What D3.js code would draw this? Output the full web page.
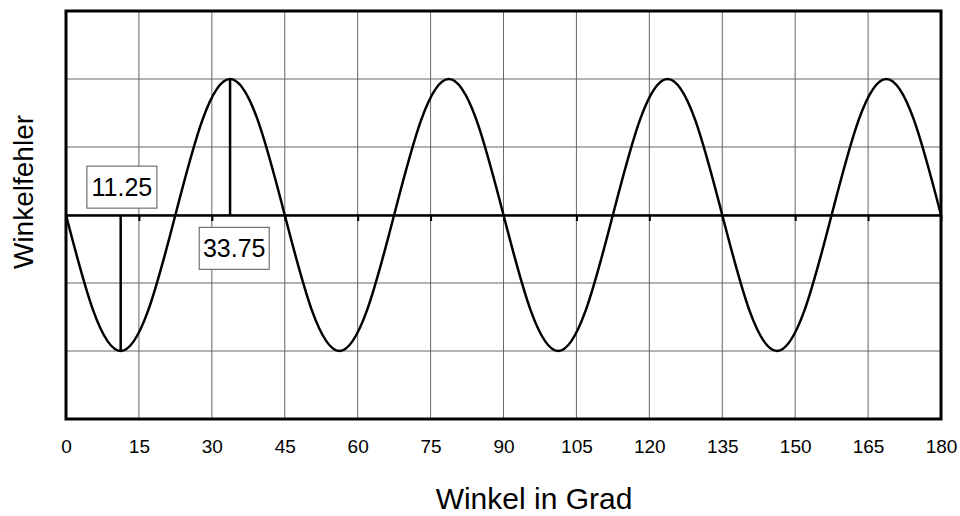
<!DOCTYPE html>
<html>
<head>
<meta charset="utf-8">
<script src="https://cdn.jsdelivr.net/npm/d3@7"></script>
<style>
  body { margin: 0; background: #fff; }
  text { font-family: Arial, "Liberation Sans", sans-serif; fill: #000; }
</style>
</head>
<body>
<div id="container"></div>
<script>
/* CONSTANTS AND GLOBALS */
const width = 960,
  height = 516,
  margin = { top: 11, bottom: 97, left: 66, right: 19 };

/* DATA */
// angle (deg) and error every 5.625 deg
const angles = [0, 5.625, 11.25, 16.875, 22.5, 28.125, 33.75, 39.375, 45,
  50.625, 56.25, 61.875, 67.5, 73.125, 78.75, 84.375, 90,
  95.625, 101.25, 106.875, 112.5, 118.125, 123.75, 129.375, 135,
  140.625, 146.25, 151.875, 157.5, 163.125, 168.75, 174.375, 180];
const errors = [0, -1.41, -2, -1.41, 0, 1.41, 2, 1.41, 0,
  -1.41, -2, -1.41, 0, 1.41, 2, 1.41, 0,
  -1.41, -2, -1.41, 0, 1.41, 2, 1.41, 0,
  -1.41, -2, -1.41, 0, 1.41, 2, 1.41, 0];
const xTicks = [0, 15, 30, 45, 60, 75, 90, 105, 120, 135, 150, 165, 180];
const yGrid = [-3, -2, -1, 0, 1, 2, 3];
// marker lines: angle and value at that angle
const markerAngles = [11.25, 33.75];
const markerValues = [-2, 2];
// label boxes: text and where they sit (data coords)
const labelTexts = ["11.25", "33.75"];
const labelX = [11.5, 34.6];
const labelY = [0.41, -0.49];

const data = angles.map((a, i) => ({ angle: a, err: errors[i] }));

/* SCALES */
const xScale = d3.scaleLinear()
  .domain([0, 180])
  .range([margin.left, width - margin.right]);

const yScale = d3.scaleLinear()
  .domain([-3, 3])
  .range([height - margin.bottom, margin.top]);

/* HTML ELEMENTS */
const svg = d3.select("#container")
  .append("svg")
  .attr("width", width)
  .attr("height", height);

// grid
svg.append("g")
  .selectAll("line")
  .data(xTicks)
  .join("line")
  .attr("x1", d => xScale(d))
  .attr("x2", d => xScale(d))
  .attr("y1", yScale(3))
  .attr("y2", yScale(-3))
  .attr("stroke", "#666")
  .attr("stroke-width", 1);

svg.append("g")
  .selectAll("line")
  .data(yGrid)
  .join("line")
  .attr("x1", xScale(0))
  .attr("x2", xScale(180))
  .attr("y1", d => yScale(d))
  .attr("y2", d => yScale(d))
  .attr("stroke", "#666")
  .attr("stroke-width", 1);

// tick labels under the frame
const xAxis = d3.axisBottom(xScale)
  .tickValues(xTicks)
  .tickSize(0)
  .tickPadding(21);

svg.append("g")
  .attr("transform", `translate(0, ${yScale(-3)})`)
  .call(xAxis)
  .call(g => g.select(".domain").remove())
  .call(g => g.selectAll("text")
    .style("font-size", "19px")
    .style("font-family", "Arial, 'Liberation Sans', sans-serif")
    .attr("fill", "#000"));

// zero axis with small ticks
const zeroAxis = d3.axisBottom(xScale)
  .tickValues(xTicks)
  .tickSizeInner(6)
  .tickSizeOuter(0)
  .tickFormat("");

svg.append("g")
  .attr("transform", `translate(0, ${yScale(0)})`)
  .call(zeroAxis)
  .call(g => g.select(".domain").attr("stroke", "#000").attr("stroke-width", 2.5))
  .call(g => g.selectAll(".tick line").attr("stroke", "#000").attr("stroke-width", 2));

// marker lines
svg.append("g")
  .selectAll("line")
  .data(markerAngles)
  .join("line")
  .attr("x1", d => xScale(d))
  .attr("x2", d => xScale(d))
  .attr("y1", yScale(0))
  .attr("y2", (d, i) => yScale(markerValues[i]))
  .attr("stroke", "#000")
  .attr("stroke-width", 2.5);

// curve
const line = d3.line()
  .x(d => xScale(d.angle))
  .y(d => yScale(d.err))
  .curve(d3.curveNatural);

svg.append("path")
  .datum(data)
  .attr("d", line)
  .attr("fill", "none")
  .attr("stroke", "#000")
  .attr("stroke-width", 2.5);

// frame
svg.append("rect")
  .attr("x", xScale(0))
  .attr("y", yScale(3))
  .attr("width", xScale(180) - xScale(0))
  .attr("height", yScale(-3) - yScale(3))
  .attr("fill", "none")
  .attr("stroke", "#000")
  .attr("stroke-width", 3);

// label boxes
const labels = svg.append("g")
  .selectAll("g")
  .data(labelTexts)
  .join("g")
  .attr("transform", (d, i) => `translate(${xScale(labelX[i])}, ${yScale(labelY[i])})`);

labels.append("rect")
  .attr("x", -35)
  .attr("y", -21)
  .attr("width", 70)
  .attr("height", 42)
  .attr("fill", "#fff")
  .attr("stroke", "#555")
  .attr("stroke-width", 1);

labels.append("text")
  .attr("text-anchor", "middle")
  .attr("y", 9)
  .style("font-size", "25px")
  .text(d => d);

// axis titles
svg.append("text")
  .attr("x", 534)
  .attr("y", 509)
  .attr("text-anchor", "middle")
  .style("font-size", "30px")
  .text("Winkel in Grad");

svg.append("text")
  .attr("transform", "translate(33, 192) rotate(-90)")
  .attr("text-anchor", "middle")
  .style("font-size", "28px")
  .text("Winkelfehler");
</script>
</body>
</html>
